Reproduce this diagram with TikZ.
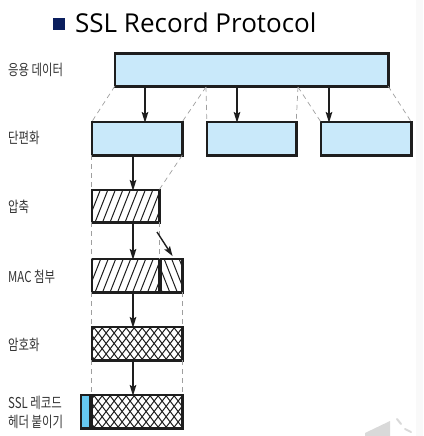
\documentclass[tikz,border=0pt]{standalone}
\usepackage{fontspec}
\setmainfont{Open Sans}
\newfontfamily\kr[FakeStretch=0.76]{Noto Sans CJK KR}
\usetikzlibrary{calc}
\definecolor{lblue}{HTML}{C9E9FA}
\definecolor{hblue}{HTML}{66C8F0}
\definecolor{navy}{HTML}{0B1F5E}
\definecolor{txt}{HTML}{333333}
\definecolor{ink}{HTML}{1E1E1E}
\tikzset{
  box/.style={inner sep=0pt, minimum height=33pt},
  border/.style={draw=ink, line width=2.6pt, line join=miter},
  hline/.style={draw=ink, line width=1pt},
  guide/.style={draw=gray!75, line width=0.7pt, dash pattern=on 5pt off 4pt},
  flow/.style={draw=ink, line width=1.4pt},
  headfill/.style={fill=ink},
  lbl/.style={anchor=west, text=txt, font=\kr\fontsize{15pt}{18pt}\selectfont, inner sep=0pt},
}
\begin{document}
\begin{tikzpicture}[x=1pt,y=1pt]
\useasboundingbox (0,0) rectangle (423,-436);
\fill[gray!5] (416,0) rectangle (423,-436);
% title
\node[fill=navy, minimum size=12pt, inner sep=0pt] (bul) at (59,-24) {};
\node[anchor=base west, inner sep=0pt, font=\fontsize{26pt}{30pt}\selectfont] (title) at (75,-33) {SSL Record Protocol};
% labels
\node[lbl] (l1) at (8,-70) {응용 데이터};
\node[lbl] (l2) at (8,-138) {단편화};
\node[lbl] (l3) at (8,-207) {압축};
\node[lbl] (l4) at (8,-277) {MAC 첨부};
\node[lbl] (l5) at (8,-345) {암호화};
\node[lbl] (l6) at (8,-403) {SSL 레코드};
\node[lbl] (l7) at (8,-422) {헤더 붙이기};
% boxes (fills)
\node[box, fill=lblue, minimum width=273pt, minimum height=32pt] (app) at (251.5,-70) {};
\node[box, fill=lblue, minimum width=90pt] (f1) at (137,-138.5) {};
\node[box, fill=lblue, minimum width=89pt] (f2) at (251.5,-138.5) {};
\node[box, fill=lblue, minimum width=90pt] (f3) at (366,-138.5) {};
\node[box, fill=white, minimum width=67pt, minimum height=32pt] (cmp) at (125.5,-206) {};
\node[box, fill=white, minimum width=67pt] (mac1) at (125.5,-275.5) {};
\node[box, fill=white, minimum width=21pt] (mac2) at (171.5,-275.5) {};
\node[box, fill=white, minimum width=90pt] (enc) at (137,-343.5) {};
\node[box, fill=white, minimum width=90pt] (rec) at (137,-411.5) {};
\node[box, fill=hblue, minimum width=9pt] (hdr) at (85.5,-411.5) {};
% hatching: /// (compressed data)
\foreach \n in {cmp,mac1}{
  \begin{scope}
    \clip (\n.south west) rectangle (\n.north east);
    \foreach \x in {-20,-12.5,...,80}{
      \draw[hline] ($(\n.south west)+(\x,-2)$) -- ++(15,38);
    }
  \end{scope}
}
% hatching: \\\ (MAC)
\begin{scope}
  \clip (mac2.south west) rectangle (mac2.north east);
  \foreach \x in {-20,-12.5,...,30}{
    \draw[hline] ($(mac2.north west)+(\x,2)$) -- ++(15,-38);
  }
\end{scope}
% cross hatching (encrypted)
\foreach \n in {enc,rec}{
  \begin{scope}
    \clip (\n.south west) rectangle (\n.north east);
    \foreach \x in {-32,-24,...,104}{
      \draw[hline] ($(\n.south west)+(\x,-2)$) -- ++(28,36.5);
      \draw[hline] ($(\n.north west)+(\x,2)$) -- ++(28,-36.5);
    }
  \end{scope}
}
% borders
\foreach \n in {app,f1,f2,f3,cmp,mac1,mac2,enc,rec,hdr}{
  \draw[border] (\n.south west) rectangle (\n.north east);
}
% guide (dashed) lines
\coordinate (s1) at (206,-87);
\coordinate (s2) at (298,-87);
\draw[guide] (app.south west) -- (f1.north west);
\draw[guide] (s1) -- (f1.north east);
\draw[guide] (s1) -- (f2.north west);
\draw[guide] (s2) -- (f2.north east);
\draw[guide] (s2) -- (f3.north west);
\draw[guide] (app.south east) -- (f3.north east);
\draw[guide] (f1.south west) -- (cmp.north west);
\draw[guide] (f1.south east) -- (cmp.north east);
\draw[guide] (cmp.south west) -- (mac1.north west);
\draw[guide] (cmp.south east) -- (mac1.north east);
\draw[guide] (mac1.south west) -- (enc.north west);
\draw[guide] (mac2.south east) -- (enc.north east);
\draw[guide] (enc.south west) -- (rec.north west);
\draw[guide] (enc.south east) -- (rec.north east);
% vertical arrows: shaft + head
\coordinate (a1) at (145,-87);
\coordinate (a2) at (237,-87);
\coordinate (a3) at (329,-87);
\coordinate (c1) at (133,-156);
\coordinate (c2) at (133,-223);
\coordinate (c3) at (133,-293);
\coordinate (c4) at (133,-361);
\coordinate (e1) at (a1 |- f1.north);
\coordinate (e2) at (a2 |- f2.north);
\coordinate (e3) at (a3 |- f3.north);
\coordinate (d1) at (c1 |- cmp.north);
\coordinate (d2) at (c2 |- mac1.north);
\coordinate (d3) at (c3 |- enc.north);
\coordinate (d4) at (c4 |- rec.north);
\foreach \s/\t in {a1/e1,a2/e2,a3/e3,c1/d1,c2/d2,c3/d3,c4/d4}{
  \draw[flow] (\s) -- ($(\t)+(0,6)$);
  \fill[headfill] ($(\t)+(0,-1)$) -- ($(\t)+(-3.4,10)$) -- ($(\t)+(0,8)$) -- ($(\t)+(3.4,10)$) -- cycle;
}
% diagonal arrow (MAC)
\coordinate (m0) at (157,-232);
\coordinate (m1) at (172.5,-256);
\coordinate (mb) at ($(m1)!10pt!(m0)$);
\coordinate (mh) at ($(m1)!8pt!(m0)$);
\draw[flow] (m0) -- ($(m1)!6pt!(m0)$);
\fill[headfill] (m1) -- ($(mb)!3.4pt!90:(m1)$) -- (mh) -- ($(mb)!3.4pt!-90:(m1)$) -- cycle;
% speaker icon
\fill[gray!30] (365,-436) -- (365,-433) -- (390,-421) -- (390,-436) -- cycle;
\draw[gray!30, line width=2pt, line cap=round] (397,-419) -- (401,-424);
\draw[gray!30, line width=2pt, line cap=round] (405,-429) -- (411,-432);
\end{tikzpicture}
\end{document}
